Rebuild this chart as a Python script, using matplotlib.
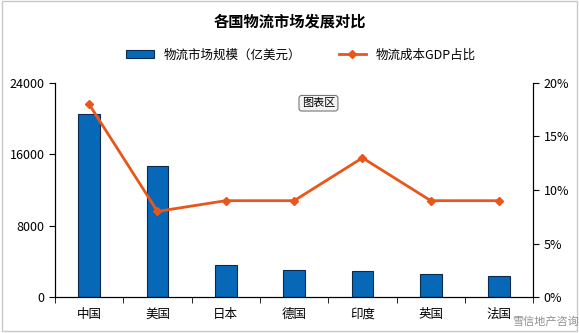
import matplotlib.pyplot as plt
import numpy as np
from matplotlib.ticker import FuncFormatter
from matplotlib.lines import Line2D
from matplotlib.patches import Patch, Rectangle

plt.rcParams['font.family'] = ['Noto Sans CJK SC', 'DejaVu Sans']

countries = ['中国', '美国', '日本', '德国', '印度', '英国', '法国']
market_size = [20500, 14700, 3600, 3000, 2900, 2600, 2350]   # 亿美元
cost_gdp = [18, 8, 9, 9, 13, 9, 9]                           # %

bar_color = '#0868B8'
line_color = '#E8561C'

fig = plt.figure(figsize=(5.79, 3.33), dpi=100)
fig.patches.append(Rectangle((0.004, 0.006), 0.992, 0.99, transform=fig.transFigure,
                             fill=False, edgecolor='#c8c8c8', linewidth=1))

ax = fig.add_axes([0.095, 0.108, 0.826, 0.643])
x = np.arange(len(countries))
ax.bar(x, market_size, width=0.32, color=bar_color, edgecolor='#0a2a50', linewidth=0.8, zorder=2)
ax.set_xlim(-0.5, len(countries) - 0.5)
ax.set_ylim(0, 24000)
ax.set_yticks([0, 8000, 16000, 24000])
ax.set_xticks(x)
ax.set_xticklabels(countries, fontsize=9)
ax.tick_params(axis='x', length=0, pad=8)
ax.set_xticks(np.arange(-0.5, len(countries)), minor=True)
ax.tick_params(axis='x', which='minor', length=4, direction='out')
ax.tick_params(axis='y', labelsize=9, length=4)
ax.spines['top'].set_visible(False)

ax2 = ax.twinx()
ax2.plot(x, cost_gdp, color=line_color, linewidth=2, marker='D', markersize=4.5, zorder=3)
ax2.set_ylim(0, 20)
ax2.set_yticks([0, 5, 10, 15, 20])
ax2.yaxis.set_major_formatter(FuncFormatter(lambda v, p: f'{v:.0f}%'))
ax2.tick_params(axis='y', labelsize=9, length=4)
ax2.spines['top'].set_visible(False)

fig.text(0.5, 0.935, '各国物流市场发展对比', ha='center', va='center', fontsize=11, fontweight='bold')

handles = [Patch(facecolor=bar_color, edgecolor='#0a2a50', linewidth=0.8),
           Line2D([0], [0], color=line_color, linewidth=2, marker='D', markersize=4)]
fig.legend(handles, ['物流市场规模（亿美元）', '物流成本GDP占比'], loc='center',
           bbox_to_anchor=(0.52, 0.835), ncol=2, frameon=False, fontsize=9,
           handlelength=2.2, columnspacing=3)

fig.text(0.55, 0.69, '图表区', ha='center', va='center', fontsize=8,
         bbox=dict(boxstyle='round,pad=0.25', facecolor='#f4f4f4', edgecolor='#777777', linewidth=0.8))
fig.text(0.942, 0.035, '雪信地产咨询', ha='center', va='center', fontsize=8, color='#909090')

fig.savefig('out.png', dpi=100)
